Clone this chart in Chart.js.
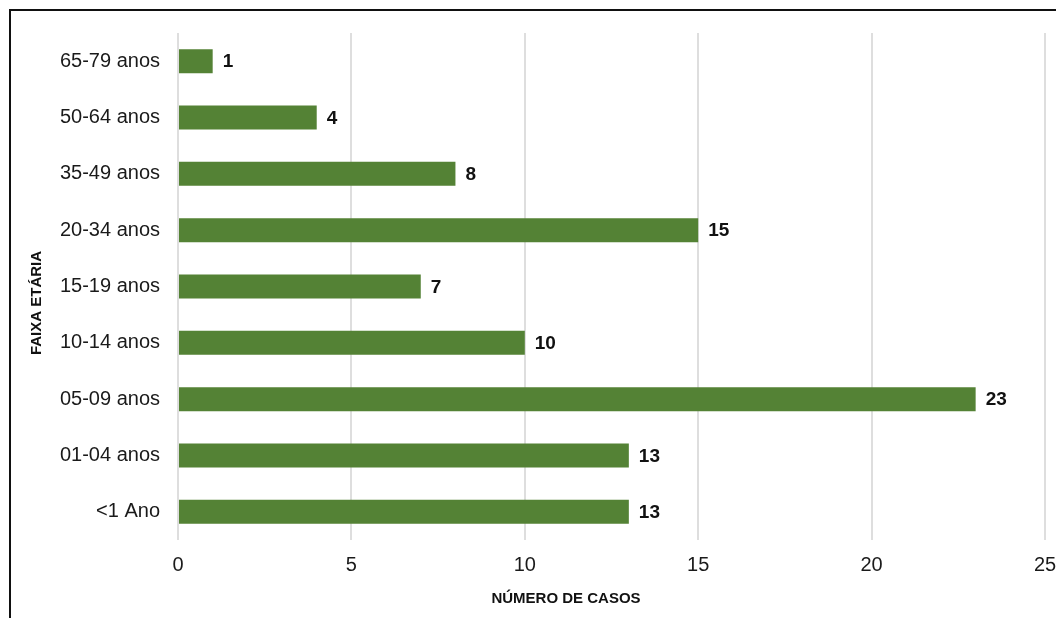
<!DOCTYPE html>
<html>
<head>
<meta charset="utf-8">
<script src="https://cdn.jsdelivr.net/npm/chart.js@4/dist/chart.umd.min.js"></script>
<style>
  body { margin: 0; background: #fff; }
  #wrap { position: relative; width: 1056px; height: 618px; overflow: hidden; }
  #frame { position: absolute; left: 9px; top: 9px; width: 1200px; height: 800px;
           border-top: 2px solid #111; border-left: 2px solid #111; }
  #myChart { position: absolute; left: 0; top: 0; }
</style>
</head>
<body>
<div id="wrap">
  <div id="frame"></div>
  <canvas id="myChart" width="1056" height="618"></canvas>
</div>
<script>
var faixas = ["65-79 anos", "50-64 anos", "35-49 anos", "20-34 anos", "15-19 anos",
              "10-14 anos", "05-09 anos", "01-04 anos", "<1 Ano"];
var casos = [1, 4, 8, 15, 7, 10, 23, 13, 13];
var xTicks = [0, 5, 10, 15, 20, 25];

var fontFamily = "'Liberation Sans', Arial, sans-serif";

// value labels at the end of each bar + the two axis titles
var labelsPlugin = {
    id: 'labelsPlugin',
    afterDatasetsDraw: function(chart) {
        var ctx = chart.ctx;
        var meta = chart.getDatasetMeta(0);
        ctx.save();
        ctx.font = "bold 19px " + fontFamily;
        ctx.fillStyle = "#111";
        ctx.textAlign = "left";
        ctx.textBaseline = "middle";
        meta.data.forEach(function(bar, i) {
            ctx.fillText(casos[i], bar.x + 10, bar.y + 1);
        });
        ctx.restore();
    },
    afterDraw: function(chart) {
        var ctx = chart.ctx;
        ctx.save();
        ctx.font = "bold 15px " + fontFamily;
        ctx.fillStyle = "#111";
        ctx.textAlign = "center";
        ctx.textBaseline = "middle";
        ctx.fillText("NÚMERO DE CASOS", 566, 599);
        ctx.translate(37, 303);
        ctx.rotate(-Math.PI / 2);
        ctx.fillText("FAIXA ETÁRIA", 0, 0);
        ctx.restore();
    }
};

var ctx = document.getElementById('myChart').getContext('2d');
var myChart = new Chart(ctx, {
    type: 'bar',
    data: {
        labels: faixas,
        datasets: [{
            data: casos,
            backgroundColor: "#548235",
            borderWidth: 0,
            categoryPercentage: 1,
            barPercentage: 0.425
        }]
    },
    plugins: [labelsPlugin],
    options: {
        indexAxis: 'y',
        responsive: false,
        animation: false,
        layout: {
            padding: { top: 33, right: 11, left: 0, bottom: 0 }
        },
        plugins: {
            legend: { display: false },
            tooltip: { enabled: false }
        },
        scales: {
            x: {
                min: 0,
                max: 25,
                afterFit: function(scale) {
                    scale.height = 78;
                    // let the "25" label run up to the edge
                    scale.paddingLeft = 0;
                    scale.paddingRight = 0;
                },
                afterBuildTicks: function(scale) {
                    scale.ticks = xTicks.map(function(v) { return { value: v }; });
                },
                grid: { color: "#dedede", lineWidth: 2, drawTicks: false },
                border: { display: false },
                ticks: {
                    padding: 13,
                    color: "#1a1a1a",
                    font: { family: fontFamily, size: 20 }
                }
            },
            y: {
                afterFit: function(scale) { scale.width = 178; },
                grid: { display: false, drawTicks: false },
                border: { display: false },
                ticks: {
                    padding: 18,
                    color: "#1a1a1a",
                    font: { family: fontFamily, size: 20 }
                }
            }
        }
    }
});
</script>
</body>
</html>
